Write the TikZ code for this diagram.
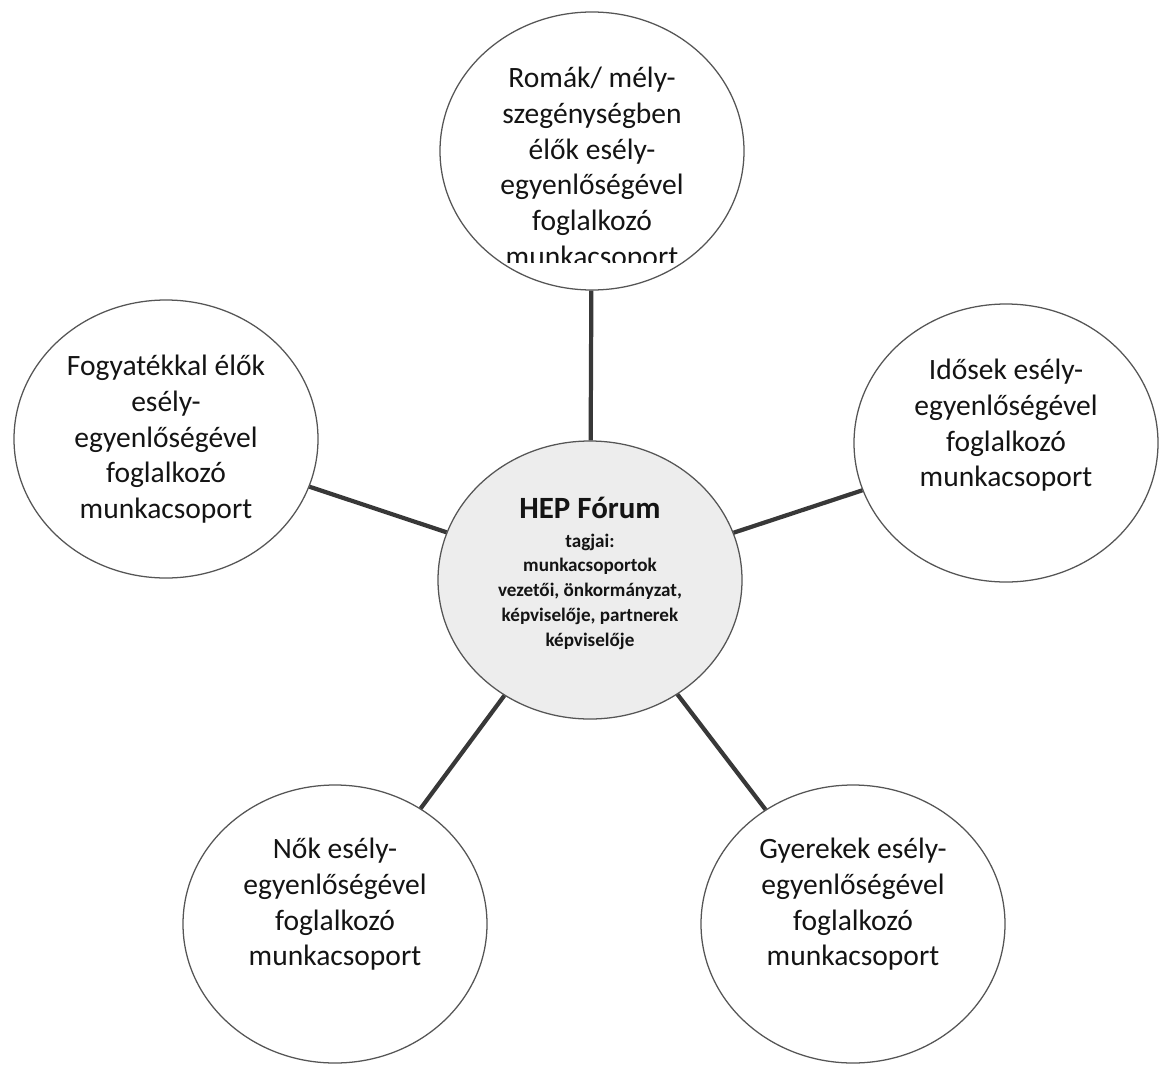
\documentclass[tikz,border=0pt]{standalone}
\usepackage{fontspec}
\setmainfont{Carlito}
\usetikzlibrary{shapes.geometric,positioning}

\definecolor{rimgray}{HTML}{555555}
\definecolor{spokegray}{HTML}{383838}
\definecolor{hubfill}{HTML}{EDEDED}

\begin{document}
\begin{tikzpicture}[
  x=0.25mm,y=-0.25mm,
  circ/.style={ellipse,draw=rimgray,line width=0.9pt,fill=white,
    minimum width=7.6cm,minimum height=6.95cm,inner sep=0pt},
  hub/.style={circ,fill=hubfill},
  txt/.style={align=center,inner sep=0pt,text=black!92,
    font=\fontsize{21}{25.5}\selectfont},
  hubtxt/.style={align=center,inner sep=0pt,text=black!92,
    font=\bfseries\fontsize{13.6}{17.7}\selectfont},
  spoke/.style={draw=spokegray,line width=3pt},
]
  \useasboundingbox (0,0) rectangle (1160,1064);
  % circles
  \node[hub] (hep) at (590,580) {};
  \node[circ] (roma) at (592,151) {};
  \node[circ] (fogy) at (166,439) {};
  \node[circ] (idos) at (1006,443) {};
  \node[circ] (nok) at (335,924) {};
  \node[circ] (gyer) at (853,924) {};
  % spokes
  \foreach \n in {roma,fogy,idos,nok,gyer}
    \draw[spoke] (hep) -- (\n);
  % texts
  \node[hubtxt,below=1.4cm of hep.north] (heptxt)
    {{\fontsize{22}{26}\selectfont HEP Fórum}\\[3pt]tagjai:\\munkacsoportok\\
     vezetői, önkormányzat,\\képviselője, partnerek\\képviselője};
  \begin{scope}
    \clip (0,0) rectangle (1160,262);
    \node[txt,below=1.38cm of roma.north] (romatxt)
      {Romák/ mély-\\szegénységben\\élők esély-\\egyenlőségével\\foglalkozó\\munkacsoport};
  \end{scope}
  \node[txt,below=1.38cm of fogy.north] (fogytxt)
    {Fogyatékkal élők\\esély-\\egyenlőségével\\foglalkozó\\munkacsoport};
  \node[txt,below=1.38cm of idos.north] (idostxt)
    {Idősek esély-\\egyenlőségével\\foglalkozó\\munkacsoport};
  \node[txt,below=1.33cm of nok.north] (noktxt)
    {Nők esély-\\egyenlőségével\\foglalkozó\\munkacsoport};
  \node[txt,below=1.33cm of gyer.north] (gyertxt)
    {Gyerekek esély-\\egyenlőségével\\foglalkozó\\munkacsoport};
\end{tikzpicture}
\end{document}
